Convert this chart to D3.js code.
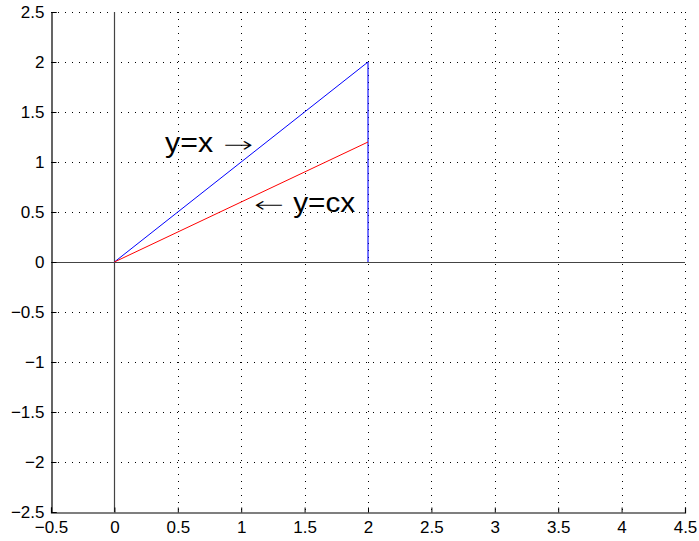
<!DOCTYPE html>
<html>
<head>
<meta charset="utf-8">
<script src="https://cdn.jsdelivr.net/npm/d3@7"></script>
<style>
  body { margin: 0; background: #fff; }
</style>
</head>
<body>
<svg id="chart" width="699" height="541"></svg>
<script>
// data
const xDomain = [-0.5, 4.5];
const yDomain = [-2.5, 2.5];
const xTicks = [-0.5, 0, 0.5, 1, 1.5, 2, 2.5, 3, 3.5, 4, 4.5];
const yTicks = [-2.5, -2, -1.5, -1, -0.5, 0, 0.5, 1, 1.5, 2, 2.5];
const lineX = [[0, 0], [2, 2]];          // y = x
const lineCX = [[0, 0], [2, 1.2]];       // y = c x, c = 0.6
const vertLine = [[2, 0], [2, 2]];
const labels = [
  { text: "y=x", x: 0.4, y: 1.1, len: 48, arrow: false },
  { text: "\u2192", x: 0.86, y: 1.1, len: 30, arrow: true },
  { text: "\u2190", x: 1.10, y: 0.5, len: 30, arrow: true },
  { text: "y=cx", x: 1.41, y: 0.5, len: 62, arrow: false }
];

const svg = d3.select('#chart');
const margin = { left: 51, top: 12, right: 14, bottom: 29 },
  width = 699, height = 541;

const x = d3.scaleLinear().domain(xDomain).range([margin.left, width - margin.right]);
const y = d3.scaleLinear().domain(yDomain).range([height - margin.bottom, margin.top]);

const fmt = d => (d < 0 ? '\u2212' + Math.abs(d) : '' + d);

// grid, dotted
const grid = svg.append('g').attr('stroke', '#000').attr('stroke-width', 1)
  .attr('stroke-dasharray', '1,6');
grid.selectAll('.gx').data(xTicks.slice(1))
  .enter().append('line')
    .attr('x1', d => Math.round(x(d)) + 0.5).attr('x2', d => Math.round(x(d)) + 0.5)
    .attr('y1', y(yDomain[1])).attr('y2', y(yDomain[0]));
grid.selectAll('.gy').data(yTicks.slice(1))
  .enter().append('line')
    .attr('y1', d => Math.round(y(d)) + 0.5).attr('y2', d => Math.round(y(d)) + 0.5)
    .attr('x1', x(xDomain[0])).attr('x2', x(xDomain[1]));

// zero axes
svg.append('line')
  .attr('x1', x(xDomain[0])).attr('x2', x(xDomain[1]))
  .attr('y1', Math.round(y(0)) + 0.5).attr('y2', Math.round(y(0)) + 0.5)
  .attr('stroke', '#444').attr('stroke-width', 1.2);
svg.append('line')
  .attr('y1', y(yDomain[0])).attr('y2', y(yDomain[1]))
  .attr('x1', Math.round(x(0)) + 0.5).attr('x2', Math.round(x(0)) + 0.5)
  .attr('stroke', '#444').attr('stroke-width', 1.2);

// axes
const xAxis = svg.append('g')
  .attr('transform', `translate(0,${Math.round(y(yDomain[0])) + 0.5})`)
  .call(d3.axisBottom(x).tickValues(xTicks).tickSize(-5).tickPadding(8).tickFormat(fmt));
const yAxis = svg.append('g')
  .attr('transform', `translate(${Math.round(x(xDomain[0])) + 0.5},0)`)
  .call(d3.axisLeft(y).tickValues(yTicks).tickSize(-5).tickPadding(7).tickFormat(fmt));
[xAxis, yAxis].forEach(a => {
  a.attr('font-family', null);
  a.select('.domain').attr('stroke', '#000').attr('stroke-width', 1.2);
  a.selectAll('.tick line').attr('stroke', '#000');
  a.selectAll('text').attr('font-size', 17).attr('fill', '#000')
    .style('font-family', '"Liberation Sans", Arial, sans-serif');
});

// lines
const line = d3.line().x(d => x(d[0])).y(d => y(d[1]));
svg.append('path').attr('d', line(vertLine))
  .attr('stroke', '#0000ff').attr('stroke-opacity', 0.55).attr('stroke-width', 2).attr('fill', 'none');
svg.append('path').attr('d', line(lineX))
  .attr('stroke', '#0000ff').attr('stroke-width', 1).attr('fill', 'none');
svg.append('path').attr('d', line(lineCX))
  .attr('stroke', '#ff0000').attr('stroke-width', 1).attr('fill', 'none');

// annotations, stretched horizontally to the width seen in the picture
svg.selectAll('.lbl').data(labels)
  .enter().append('text')
    .attr('font-size', d => d.arrow ? 22 : 28)
    .style('font-family', d => d.arrow ? '"DejaVu Sans", sans-serif' : '"Liberation Sans", Arial, sans-serif')
    .style('font-weight', d => d.arrow ? 200 : 400)
    .attr('fill', '#000')
    .text(d => d.text)
    .each(function(d) {
      const w = this.getComputedTextLength();
      const sx = d.len / w;
      d3.select(this).attr('transform',
        `translate(${x(d.x)},${y(d.y)}) scale(${sx},1)`);
    });
</script>
</body>
</html>
